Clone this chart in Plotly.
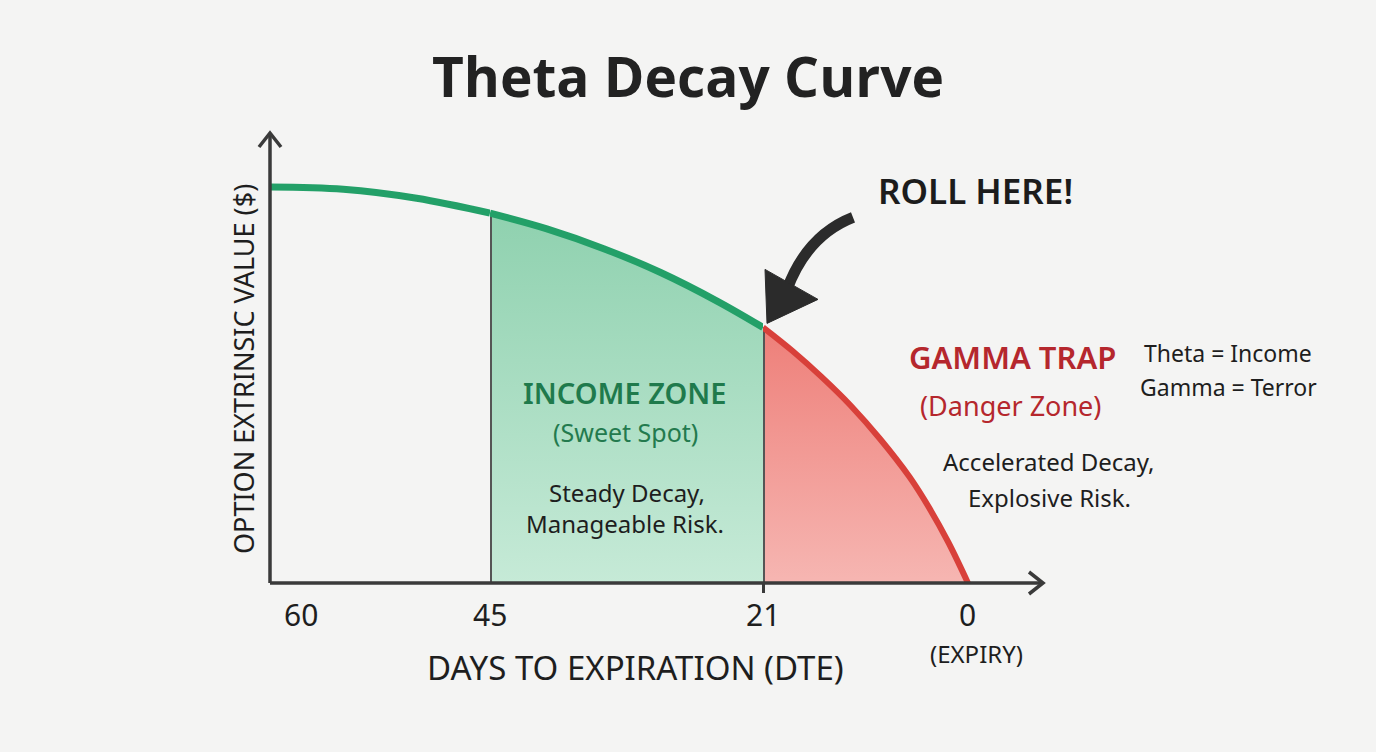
import plotly.graph_objects as go

# ---------------- data ----------------
dte_green = [60, 55, 50, 45, 40, 35, 30, 25, 21]
val_green = [88.0, 87.5, 85.5, 82.2, 78.7, 74.3, 69.0, 62.6, 56.8]
dte_red = [21, 18, 15, 12, 9, 6, 4, 2, 0]
val_red = [56.8, 51.6, 45.8, 39.4, 32.0, 23.6, 16.8, 9.0, 0.0]

zone_start = 45   # income zone begins
roll_point = 21   # roll / gamma zone begins
tick_vals = [60, 45, 21, 0]
tick_text = ["60", "45", "21", "0"]

GREEN = "#23a068"
RED = "#d8403a"
AXIS = "#3a3a3a"
BG = "#f4f4f3"
FONT = "Noto Sans"

i45 = dte_green.index(zone_start)
seg1_x, seg1_y = dte_green[: i45 + 1], val_green[: i45 + 1]
seg2_x, seg2_y = dte_green[i45:], val_green[i45:]

fig = go.Figure()

# fills
fig.add_trace(go.Scatter(
    x=seg2_x, y=seg2_y, xaxis="x2", yaxis="y", mode="lines",
    line=dict(width=0, shape="spline"), fill="tozeroy",
    fillgradient=dict(type="vertical", start=0, stop=seg2_y[0],
                      colorscale=[[0, "#c6eAd7"], [1, "#8fd1af"]]),
    hoverinfo="skip", showlegend=False))
fig.add_trace(go.Scatter(
    x=dte_red, y=val_red, xaxis="x3", yaxis="y", mode="lines",
    line=dict(width=0, shape="spline"), fill="tozeroy",
    fillgradient=dict(type="vertical", start=0, stop=val_red[0],
                      colorscale=[[0, "#f6b6b2"], [1, "#ee7f79"]]),
    hoverinfo="skip", showlegend=False))

# zone boundary lines
fig.add_trace(go.Scatter(x=[zone_start, zone_start], y=[0, seg2_y[0]], xaxis="x2", yaxis="y",
                         mode="lines", line=dict(color="#555555", width=4),
                         hoverinfo="skip", showlegend=False))
fig.add_trace(go.Scatter(x=[roll_point, roll_point], y=[0, val_red[0]], xaxis="x3", yaxis="y",
                         mode="lines", line=dict(color="#555555", width=4),
                         hoverinfo="skip", showlegend=False))

# curves
fig.add_trace(go.Scatter(x=seg1_x, y=seg1_y, xaxis="x", yaxis="y", mode="lines",
                         line=dict(color=GREEN, width=7, shape="spline"),
                         hoverinfo="skip", showlegend=False))
fig.add_trace(go.Scatter(x=seg2_x, y=seg2_y, xaxis="x2", yaxis="y", mode="lines",
                         line=dict(color=GREEN, width=7, shape="spline"),
                         hoverinfo="skip", showlegend=False))
fig.add_trace(go.Scatter(x=dte_red, y=val_red, xaxis="x3", yaxis="y", mode="lines",
                         line=dict(color=RED, width=6, shape="spline"),
                         hoverinfo="skip", showlegend=False))

W, H = 1376, 752
L, R, T, B = 270, 333, 133, 169
pw = W - L - R
ph = H - T - B
d1 = (490 - L) / pw
d2 = (763 - L) / pw

hidden = dict(showgrid=False, zeroline=False, showline=False, showticklabels=False, ticks="")
fig.update_layout(
    width=W, height=H,
    margin=dict(l=L, r=R, t=T, b=B),
    paper_bgcolor=BG, plot_bgcolor=BG,
    title=dict(text="Theta Decay Curve", x=0.5, xanchor="center", y=1 - 78 / H, yanchor="middle",
               font=dict(family="Open Sans", size=55, color="#222222", weight=700)),
    xaxis=dict(domain=[0, d1], range=[60, 45], **hidden),
    xaxis2=dict(domain=[d1, d2], range=[45, 21], anchor="y", **hidden),
    xaxis3=dict(domain=[d2, 1], range=[21, 21 - (1043 - 763) / 9.76], anchor="y",
                showgrid=False, zeroline=False, showline=False, showticklabels=False,
                ticks="outside", tickvals=[roll_point], ticklen=9, tickwidth=2.5, tickcolor=AXIS),
    yaxis=dict(range=[0, 100], **hidden),
    showlegend=False,
)

def px(xp):
    return (xp - L) / pw

def py(yp):
    return (T + ph - yp) / ph

shapes = [
    dict(type="line", xref="paper", yref="paper", x0=0, y0=0, x1=1, y1=0,
         line=dict(color=AXIS, width=3.5)),
    dict(type="line", xref="paper", yref="paper", x0=0, y0=0, x1=0, y1=1,
         line=dict(color=AXIS, width=3.5)),
    dict(type="path", xref="paper", yref="paper", xsizemode="pixel", ysizemode="pixel",
         xanchor=1, yanchor=0, path="M -14 11 L 0 0 L -14 -11",
         line=dict(color=AXIS, width=3.5)),
    dict(type="path", xref="paper", yref="paper", xsizemode="pixel", ysizemode="pixel",
         xanchor=0, yanchor=1, path="M -11 -14 L 0 0 L 11 -14",
         line=dict(color=AXIS, width=3.5)),
    # ROLL HERE arrow, anchored to the roll point on the curve
    dict(type="path", xref="x3", yref="y", xsizemode="pixel", ysizemode="pixel",
         xanchor=dte_red[0], yanchor=val_red[0], path="M 90 110 Q 44 92 24 38",
         line=dict(color="#2b2b2b", width=11)),
    dict(type="path", xref="x3", yref="y", xsizemode="pixel", ysizemode="pixel",
         xanchor=dte_red[0], yanchor=val_red[0], path="M 4 4 L 2 58 L 55 28 Z",
         fillcolor="#2b2b2b", line=dict(color="#2b2b2b", width=1)),
]
fig.update_layout(shapes=shapes)

ann = []
tick_axes = ["x", "x2", "x3", "x3"]
tick_shift = [31, 0, 0, 0]
for v, t, ax, s in zip(tick_vals, tick_text, tick_axes, tick_shift):
    ann.append(dict(x=v, xref=ax, y=0, yref="paper", yshift=-31, xshift=s, text=t,
                    showarrow=False, xanchor="center", yanchor="middle",
                    font=dict(family=FONT, size=30, color="#1e1e1e")))

def text(xp, yp, s, size, color="#1e1e1e", weight=400, angle=0, family=FONT):
    ann.append(dict(x=px(xp), y=py(yp), xref="paper", yref="paper", text=s, showarrow=False,
                    xanchor="center", yanchor="middle", textangle=angle,
                    font=dict(family=family, size=size, color=color, weight=weight)))

text(976, 653, "(EXPIRY)", 24)
text(635, 667, "DAYS TO EXPIRATION (DTE)", 33)
text(243, 369, "OPTION EXTRINSIC VALUE ($)", 27, angle=-90)
text(975, 190, "ROLL HERE!", 35, color="#1c1c1c", weight=600)
text(625, 392, "INCOME ZONE", 29, color="#1f7a4c", weight=600)
text(625, 432, "(Sweet Spot)", 25, color="#237a4e")
text(627, 492, "Steady Decay,", 24)
text(625, 523, "Manageable Risk.", 24)
text(1012, 357, "GAMMA TRAP", 31, color="#b5272d", weight=600)
text(1010, 405, "(Danger Zone)", 27, color="#b5272d")
text(1049, 461, "Accelerated Decay,", 24)
text(1049, 497, "Explosive Risk.", 24)
text(1228, 353, "Theta = Income", 23)
text(1228, 387, "Gamma = Terror", 23)

fig.update_layout(annotations=ann)
fig.write_html("out.html", config={"displayModeBar": False},
               post_script="document.body.style.margin='0';document.body.style.background='%s';" % BG)
